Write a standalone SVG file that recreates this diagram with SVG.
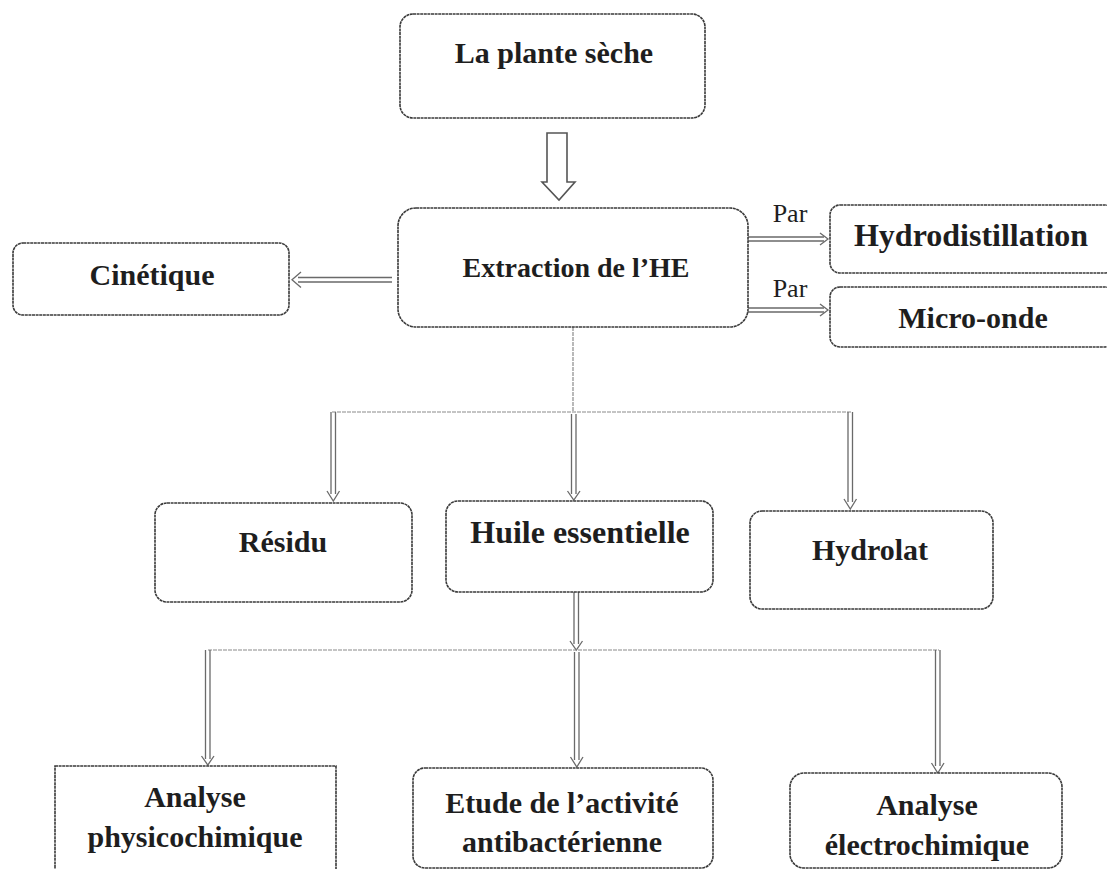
<svg xmlns="http://www.w3.org/2000/svg" width="1107" height="869" viewBox="0 0 1107 869">
<style>
.box{fill:#fff;stroke:#3a3a3a;stroke-width:1.6;stroke-dasharray:3 0.6}
.t{font-family:"Liberation Serif","Times New Roman",serif;font-weight:bold;font-size:30px;fill:#1e1e1e;text-anchor:middle}
.p{font-family:"Liberation Serif","Times New Roman",serif;font-size:26px;fill:#1e1e1e;text-anchor:middle}
.ln{fill:none;stroke:#6a6a6a;stroke-width:1.3}
.thin{fill:none;stroke:#8a8a8a;stroke-width:1.2;stroke-dasharray:4 1}
.hd{fill:none;stroke:#6a6a6a;stroke-width:1.3;stroke-linejoin:miter}
</style>
<rect width="1107" height="869" fill="#fff"/>
<g id="connectors">
<!-- hollow block arrow plante -> extraction -->
<path class="hd" d="M547 133 L567 133 L567 182 L575 182 L559 200 L542 182 L547 182 Z" style="stroke:#555;stroke-width:1.6"/>
<!-- extraction -> cinetique -->
<path class="ln" d="M392 277.5 H298 M392 282 H298"/>
<path class="hd" d="M301 272 L292 279.8 L301 287.5"/>
<!-- extraction -> hydrodistillation -->
<path class="ln" d="M748 237 H824 M748 241 H824"/>
<path class="hd" d="M820 233 L828 239 L820 245"/>
<text class="p" x="790" y="222">Par</text>
<!-- extraction -> micro-onde -->
<path class="ln" d="M748 308 H824 M748 312 H824"/>
<path class="hd" d="M820 304 L828 310 L820 316"/>
<text class="p" x="790" y="297">Par</text>
<!-- extraction -> split -->
<path class="thin" d="M573 327 V412"/>
<path class="thin" d="M332 412 H851"/>
<path class="ln" d="M331 412 V494 M335.5 412 V494"/>
<path class="hd" d="M327 491 L333.3 501 L339.5 491"/>
<path class="ln" d="M571.5 414 V494 M576 414 V494"/>
<path class="hd" d="M567.5 491 L573.8 500 L580 491"/>
<path class="ln" d="M848 412 V502 M852.5 412 V502"/>
<path class="hd" d="M844 499 L850.3 509 L856.5 499"/>
<!-- huile -> analyses -->
<path class="ln" d="M574 592 V644 M578.5 592 V644"/>
<path class="hd" d="M570 641 L576.3 650 L582.5 641"/>
<path class="thin" d="M208 650 H939"/>
<path class="ln" d="M574.5 652 V760 M579 652 V760"/>
<path class="hd" d="M570.5 757 L576.8 767 L583 757"/>
<path class="ln" d="M205.5 650 V759 M210 650 V759"/>
<path class="hd" d="M201.5 756 L207.8 765 L214 756"/>
<path class="ln" d="M935.5 650 V766 M940 650 V766"/>
<path class="hd" d="M931.5 763 L937.8 773 L944 763"/>
</g>
<g id="n-plante"><rect class="box" x="400" y="14" width="305" height="104" rx="13"/><text class="t" x="554" y="63">La plante sèche</text></g>
<g id="n-extraction"><rect class="box" x="398" y="208" width="350" height="119" rx="18"/><text class="t" x="576" y="277" style="font-size:28px">Extraction de l’HE</text></g>
<g id="n-cinetique"><rect class="box" x="13" y="243" width="276" height="72" rx="10"/><text class="t" x="152" y="285">Cinétique</text></g>
<g id="n-hydrodist"><rect class="box" x="830" y="205" width="285" height="68" rx="10"/><text class="t" x="971" y="246" style="font-size:32px">Hydrodistillation</text></g>
<g id="n-micro"><rect class="box" x="830" y="287" width="285" height="60" rx="10"/><text class="t" x="973" y="328">Micro-onde</text></g>
<g id="n-residu"><rect class="box" x="155" y="503" width="257" height="99" rx="12"/><text class="t" x="283" y="552">Résidu</text></g>
<g id="n-huile"><rect class="box" x="446" y="501" width="267" height="91" rx="12"/><text class="t" x="580" y="543" style="font-size:32px">Huile essentielle</text></g>
<g id="n-hydrolat"><rect class="box" x="750" y="511" width="243" height="98" rx="12"/><text class="t" x="870" y="560">Hydrolat</text></g>
<g id="n-physico"><rect class="box" x="55" y="766" width="281" height="130"/><text class="t" x="195" y="807">Analyse</text><text class="t" x="195" y="847">physicochimique</text></g>
<g id="n-etude"><rect class="box" x="413" y="768" width="300" height="100" rx="12"/><text class="t" x="562" y="813">Etude de l’activité</text><text class="t" x="562" y="852">antibactérienne</text></g>
<g id="n-electro"><rect class="box" x="790" y="773" width="272" height="95" rx="14"/><text class="t" x="927" y="815">Analyse</text><text class="t" x="927" y="855">électrochimique</text></g>
</svg>
